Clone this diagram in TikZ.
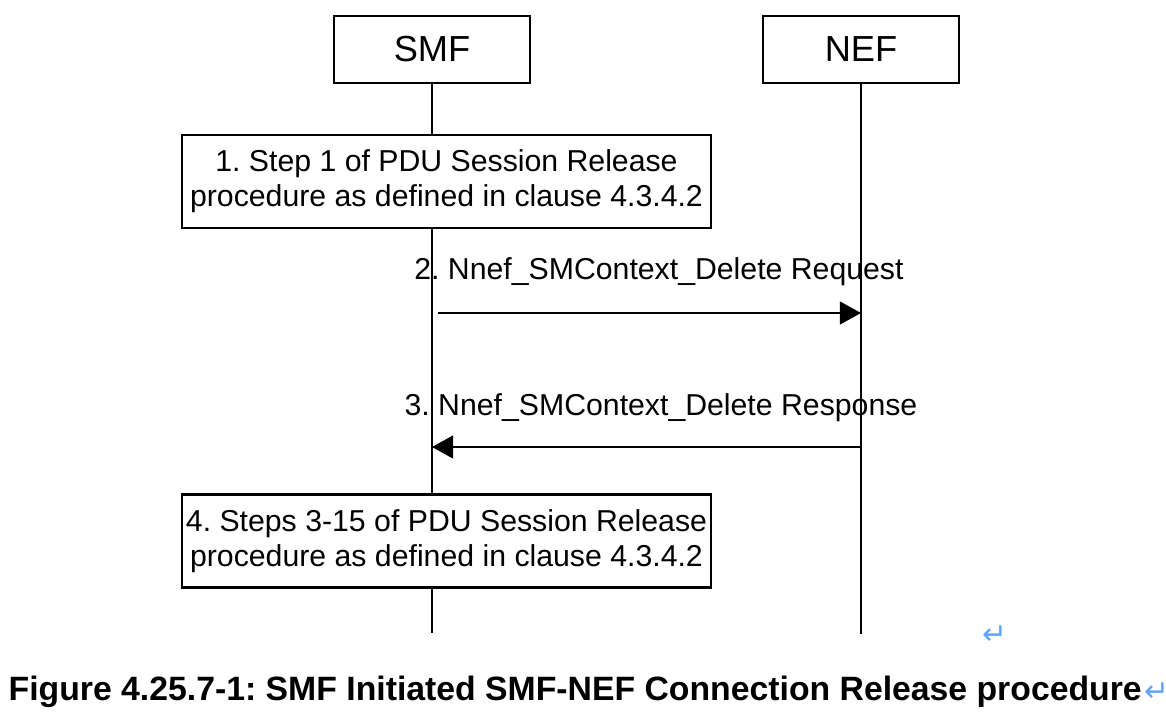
\documentclass[tikz,border=0pt]{standalone}
\usepackage{fontspec}
\setmainfont{Liberation Sans}
\newfontfamily\symfont{DejaVu Sans}
\definecolor{markblue}{rgb}{0.38,0.64,0.96}
\usetikzlibrary{arrows.meta, positioning, calc}
\frenchspacing

\begin{document}
\begin{tikzpicture}[x=0.01cm, y=-0.01cm]
	\useasboundingbox (0,0) rectangle (1166,724);
	\tikzset{
		entity/.style = {draw, line width=0.7pt, minimum width=1.96cm, minimum height=0.67cm, inner sep=0pt, font=\fontsize{10.3}{12}\selectfont},
		stepbox/.style = {draw, line width=0.7pt, minimum width=5.29cm, minimum height=0.93cm, inner sep=0pt, align=center, font=\fontsize{8.6}{10}\selectfont},
		msg/.style = {line width=0.5pt, -{Triangle[length=6pt, width=6.5pt]}},
		msglabel/.style = {font=\fontsize{8.6}{10}\selectfont, inner sep=0pt},
		parmark/.style = {font=\symfont\fontsize{8.5}{10}\selectfont, text=markblue, inner sep=0pt}
	}
	\node[entity] at (432, 49.5) (smf) {SMF};
	\node[entity] at (861, 49.5) (nef) {NEF};
	\node[stepbox] at (446.5, 181.5) (s1) {1. Step 1 of PDU Session Release\\procedure as defined in clause 4.3.4.2};
	\node[stepbox] at (446.5, 541) (s4) {4. Steps 3-15 of PDU Session Release\\procedure as defined in clause 4.3.4.2};
	\coordinate (smfend) at (432, 633);
	\coordinate (nefend) at (861, 634);
	\draw[line width=0.5pt] (smf.south) -- (smf |- s1.north);
	\draw[line width=0.5pt] (smf |- s1.south) -- (smf |- s4.north);
	\draw[line width=0.5pt] (smf |- s4.south) -- (smfend);
	\draw[line width=0.5pt] (nef.south) -- (nefend);
	\coordinate (req) at (438, 313);
	\coordinate (resp) at (861, 447);
	\draw[msg] (req) -- (nef |- req);
	\draw[msg] (resp) -- (smf |- resp);
	\node[msglabel] at (659, 272) (l2) {2. Nnef\_SMContext\_Delete Request};
	\node[msglabel] at (661, 408) (l3) {3. Nnef\_SMContext\_Delete Response};
	\node[parmark] at (995, 635) (m1) {↵};
	\node[font=\bfseries\fontsize{9.6}{11}\selectfont, inner sep=0pt, anchor=west] at (8, 692) (cap) {Figure 4.25.7-1: SMF Initiated SMF-NEF Connection Release procedure};
	\node[parmark, right=0.5pt of cap] (m2) {↵};
\end{tikzpicture}
\end{document}
